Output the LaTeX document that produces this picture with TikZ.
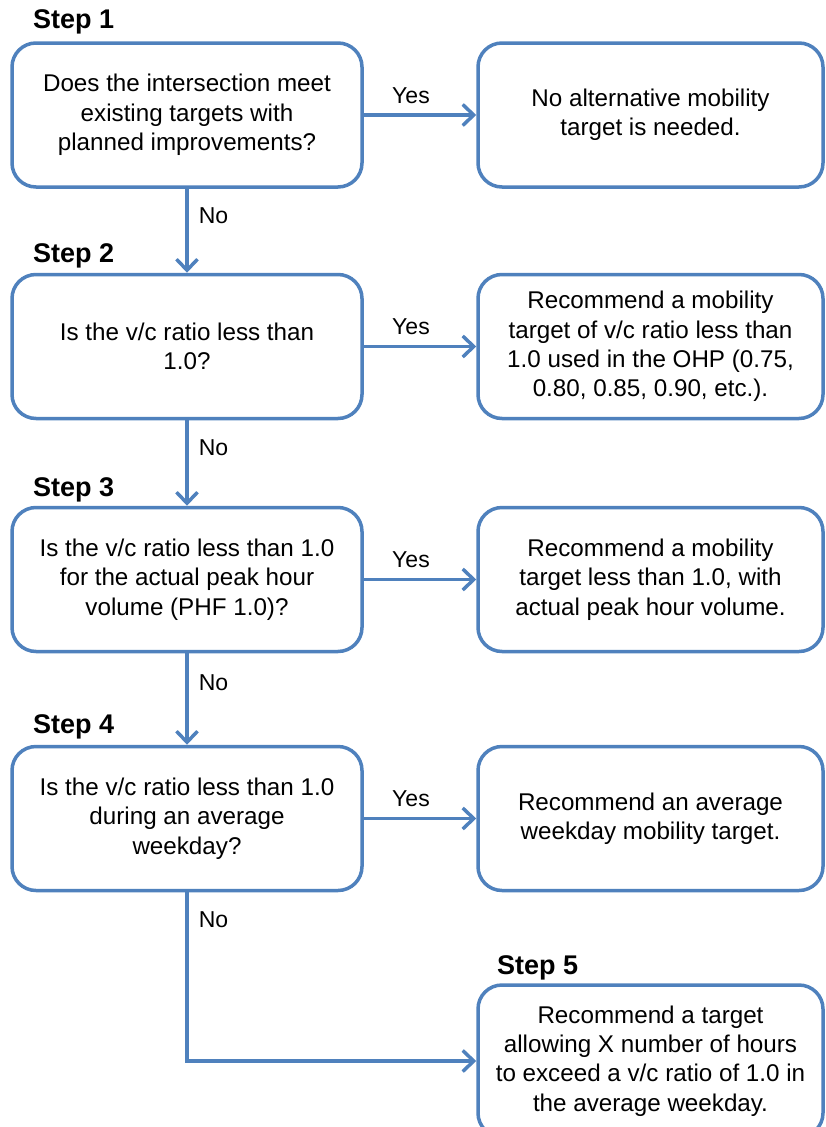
\documentclass[tikz,border=0pt]{standalone}
\usepackage{fontspec}
\setmainfont{Liberation Sans}
\usetikzlibrary{positioning, arrows.meta}
\tikzstyle{flowChart} = [x = 1pt, y = -1pt]
\definecolor{flowBlue}{RGB}{79,129,189}
\tikzstyle{boxStyle} = [draw=flowBlue, fill=white, line width=3.5pt, rounded corners = 24pt, minimum height = 144pt, align=center, inner sep=0pt, font=\fontsize{24.2}{29.3}\selectfont]
\tikzstyle{stepText} = [font=\fontsize{27}{30}\selectfont\bfseries, anchor=west, inner sep=0pt]
\tikzstyle{answerText} = [font=\fontsize{23}{26}\selectfont, inner sep=0pt]
\tikzstyle{flowArrow} = [draw=flowBlue, line width=3.5pt, -{Straight Barb[length=11pt, width=21pt]}]
\newcommand{\questionBox}[3]{\node [boxStyle, minimum width = 350pt] (#1) at (187, #2) {#3};}
\newcommand{\answerBox}[3]{\node [boxStyle, minimum width = 345pt] (#1) at (650.5, #2) {#3};}
\newcommand{\stepLabel}[4]{\node [stepText] (#1) at (#2, #3) {Step #4};}
\newcommand{\yesArrow}[3]{\draw [flowArrow] (#1) -- (#2) node [answerText, midway, above = 10pt, xshift = -9pt] (#3) {Yes};}
\newcommand{\noArrow}[3]{\draw [flowArrow] (#1) -- (#2) node [answerText, pos = .32, right = 10pt] (#3) {No};}

\begin{document}
\begin{tikzpicture}[flowChart]
        \useasboundingbox (0,0) rectangle (826,1127);
        \clip (0,0) rectangle (826,1127);
        \stepLabel{stepOne}{33}{22}{1}
        \questionBox{questionOne}{115}{Does the intersection meet\\existing targets with\\planned improvements?}
        \answerBox{answerOne}{115}{No alternative mobility\\target is needed.}
        \stepLabel{stepTwo}{33}{256}{2}
        \questionBox{questionTwo}{346.5}{Is the v/c ratio less than\\1.0?}
        \answerBox{answerTwo}{346.5}{Recommend a mobility\\target of v/c ratio less than\\1.0 used in the OHP (0.75,\\0.80, 0.85, 0.90, etc.).}
        \stepLabel{stepThree}{33}{490}{3}
        \questionBox{questionThree}{579.5}{Is the v/c ratio less than 1.0\\for the actual peak hour\\volume (PHF 1.0)?}
        \answerBox{answerThree}{579.5}{Recommend a mobility\\target less than 1.0, with\\actual peak hour volume.}
        \stepLabel{stepFour}{33}{727}{4}
        \questionBox{questionFour}{818.5}{Is the v/c ratio less than 1.0\\during an average\\weekday?}
        \answerBox{answerFour}{818.5}{Recommend an average\\weekday mobility target.}
        \stepLabel{stepFive}{497}{968}{5}
        \node [boxStyle, minimum width = 345pt, minimum height = 152pt] (answerFive) at (650.5, 1061) {Recommend a target\\allowing X number of hours\\to exceed a v/c ratio of 1.0 in\\the average weekday.};
        \yesArrow{questionOne}{answerOne}{yesOne}
        \yesArrow{questionTwo}{answerTwo}{yesTwo}
        \yesArrow{questionThree}{answerThree}{yesThree}
        \yesArrow{questionFour}{answerFour}{yesFour}
        \noArrow{questionOne}{questionTwo}{noOne}
        \noArrow{questionTwo}{questionThree}{noTwo}
        \noArrow{questionThree}{questionFour}{noThree}
        \draw [flowArrow] (questionFour) |- (answerFive) node [answerText, pos = .08, right = 10pt] (noFour) {No};
\end{tikzpicture}
\end{document}
